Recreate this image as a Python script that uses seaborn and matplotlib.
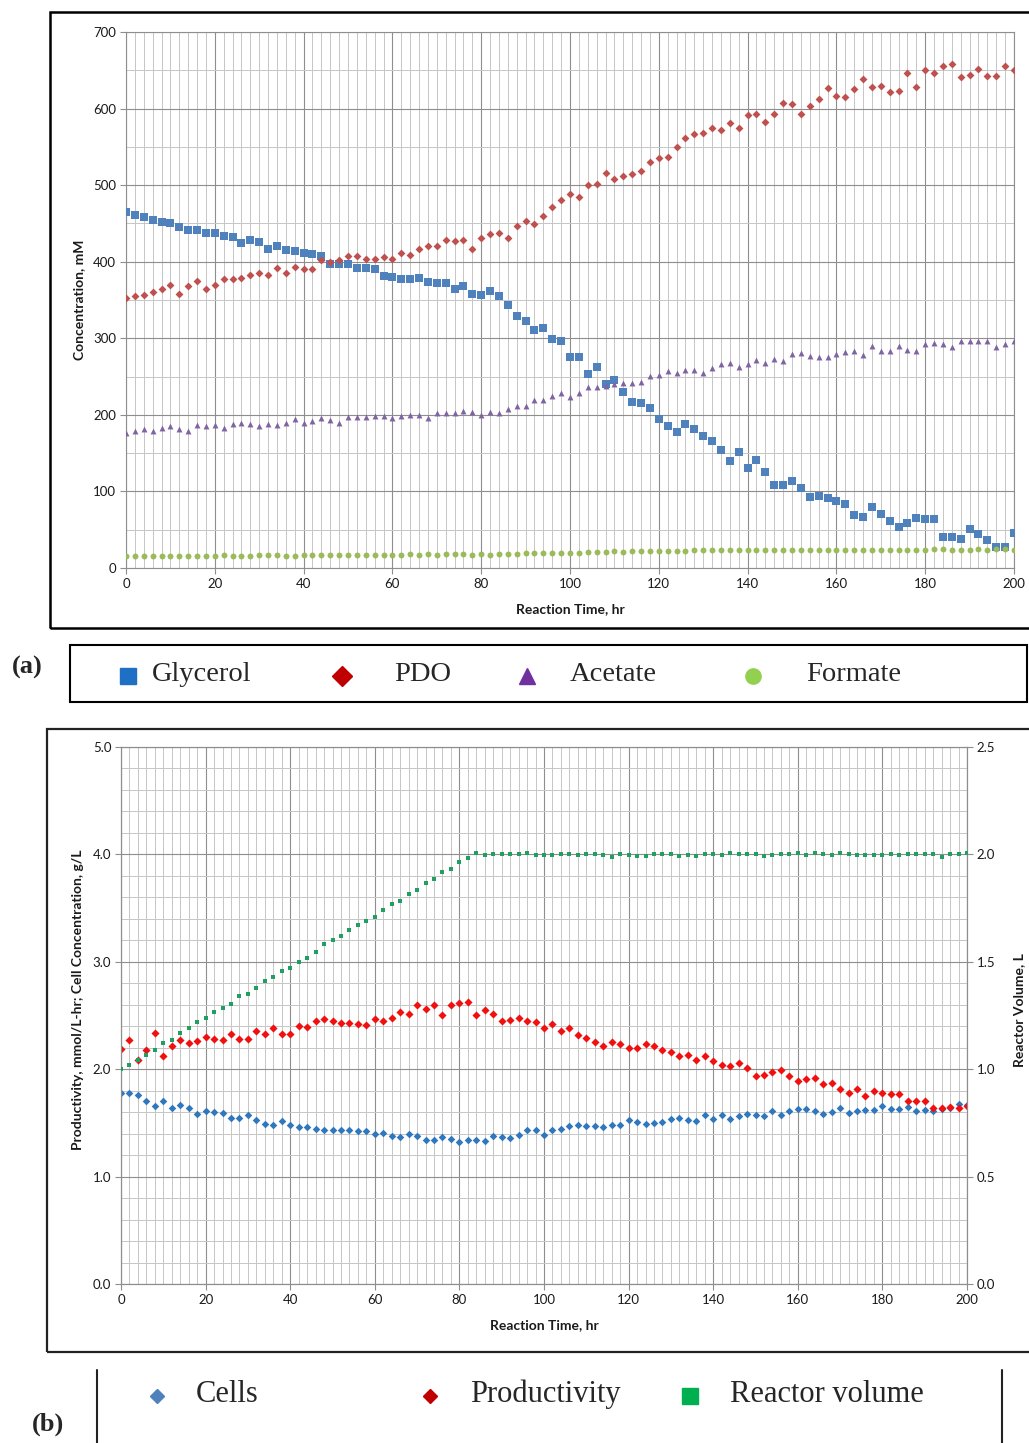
import matplotlib
matplotlib.use('Agg')
import matplotlib.pyplot as plt
from matplotlib.patches import Rectangle
from matplotlib.lines import Line2D
from matplotlib.ticker import FormatStrFormatter
import numpy as np
import pandas as pd
import seaborn as sns

sns.set_style('whitegrid')
plt.rcParams['font.family'] = ['Lato', 'DejaVu Sans']

# sampling times, hr
time = list(range(0, 201, 2))

# (a) concentrations, mM
glycerol = [465, 461, 458, 455, 452, 451, 445, 442, 441, 438,
            438, 433, 432, 424, 428, 426, 416, 421, 415, 414,
            411, 410, 407, 397, 397, 397, 392, 392, 390, 381,
            380, 377, 378, 379, 373, 372, 372, 365, 368, 358,
            356, 362, 355, 344, 329, 322, 311, 314, 299, 296,
            275, 275, 254, 263, 240, 245, 230, 217, 216, 209,
            195, 185, 178, 188, 182, 172, 166, 154, 140, 151,
            131, 141, 126, 109, 108, 114, 105, 93, 94, 92,
            88, 83, 69, 67, 80, 70, 61, 53, 59, 65,
            64, 64, 41, 41, 38, 51, 45, 36, 27, 27,
            46]
pdo = [352, 355, 356, 360, 365, 369, 358, 368, 375, 364,
       370, 378, 378, 379, 382, 385, 382, 392, 385, 393,
       391, 391, 402, 400, 402, 408, 408, 403, 403, 406,
       404, 411, 409, 416, 421, 421, 428, 427, 428, 417,
       431, 436, 437, 431, 447, 453, 449, 460, 472, 481,
       489, 484, 500, 502, 516, 508, 512, 515, 519, 530,
       536, 537, 550, 561, 567, 568, 575, 572, 581, 575,
       592, 593, 582, 593, 607, 606, 593, 603, 613, 627,
       617, 615, 626, 638, 628, 630, 622, 623, 647, 628,
       651, 647, 655, 658, 641, 644, 652, 642, 643, 655,
       650]
acetate = [176, 179, 181, 179, 183, 185, 181, 179, 187, 186,
           187, 183, 188, 189, 188, 185, 188, 187, 189, 194,
           189, 192, 196, 193, 190, 197, 197, 197, 198, 198,
           196, 198, 200, 200, 196, 202, 203, 202, 205, 204,
           200, 204, 203, 208, 212, 211, 220, 220, 225, 228,
           223, 228, 237, 237, 238, 240, 242, 241, 243, 251,
           252, 257, 255, 259, 258, 255, 261, 266, 268, 262,
           266, 272, 268, 273, 270, 279, 281, 277, 275, 275,
           280, 282, 283, 278, 290, 284, 284, 290, 285, 284,
           293, 294, 292, 289, 297, 297, 297, 297, 289, 293,
           297]
formate = [16, 16, 16, 16, 16, 16, 16, 16, 16, 16,
           16, 17, 16, 16, 16, 17, 17, 17, 16, 16,
           17, 17, 17, 17, 17, 17, 17, 17, 17, 17,
           17, 17, 18, 17, 18, 17, 18, 18, 18, 17,
           18, 17, 18, 18, 18, 19, 19, 19, 20, 20,
           20, 20, 21, 21, 21, 22, 21, 22, 22, 22,
           22, 22, 22, 22, 23, 23, 23, 23, 23, 23,
           23, 24, 23, 24, 23, 24, 24, 23, 23, 24,
           24, 24, 24, 24, 24, 24, 24, 24, 24, 24,
           24, 25, 25, 24, 24, 24, 25, 24, 25, 25,
           24]

# (b) cells g/L, productivity mmol/L-hr, reactor volume L
cells = [1.78, 1.78, 1.76, 1.70, 1.66, 1.70, 1.64, 1.67, 1.64, 1.58,
         1.61, 1.60, 1.59, 1.55, 1.55, 1.57, 1.53, 1.49, 1.48, 1.52,
         1.48, 1.46, 1.46, 1.44, 1.43, 1.43, 1.43, 1.43, 1.42, 1.42,
         1.40, 1.41, 1.38, 1.37, 1.40, 1.38, 1.34, 1.34, 1.37, 1.35,
         1.32, 1.34, 1.34, 1.33, 1.38, 1.37, 1.36, 1.39, 1.43, 1.43,
         1.39, 1.43, 1.44, 1.47, 1.48, 1.47, 1.47, 1.46, 1.48, 1.48,
         1.53, 1.51, 1.49, 1.50, 1.51, 1.54, 1.55, 1.53, 1.52, 1.57,
         1.54, 1.57, 1.54, 1.56, 1.58, 1.57, 1.56, 1.61, 1.57, 1.61,
         1.63, 1.63, 1.61, 1.58, 1.60, 1.64, 1.59, 1.61, 1.62, 1.62,
         1.66, 1.63, 1.63, 1.65, 1.61, 1.62, 1.61, 1.63, 1.64, 1.68,
         1.67]
productivity = [2.19, 2.27, 2.09, 2.18, 2.34, 2.12, 2.22, 2.27, 2.24, 2.26,
                2.30, 2.28, 2.27, 2.33, 2.28, 2.28, 2.36, 2.33, 2.38, 2.33,
                2.33, 2.40, 2.39, 2.45, 2.47, 2.45, 2.43, 2.43, 2.42, 2.41,
                2.47, 2.45, 2.48, 2.53, 2.51, 2.60, 2.56, 2.60, 2.50, 2.60,
                2.62, 2.63, 2.50, 2.55, 2.51, 2.45, 2.46, 2.48, 2.45, 2.44,
                2.38, 2.42, 2.36, 2.38, 2.32, 2.29, 2.25, 2.22, 2.25, 2.23,
                2.20, 2.20, 2.23, 2.22, 2.18, 2.16, 2.12, 2.13, 2.09, 2.12,
                2.08, 2.04, 2.03, 2.06, 2.01, 1.94, 1.95, 1.97, 1.99, 1.94,
                1.89, 1.91, 1.92, 1.86, 1.87, 1.82, 1.78, 1.82, 1.75, 1.80,
                1.78, 1.77, 1.77, 1.70, 1.70, 1.70, 1.64, 1.64, 1.65, 1.64,
                1.66]
volume = [1.00, 1.02, 1.045, 1.065, 1.09, 1.12, 1.137, 1.167, 1.19, 1.22,
          1.24, 1.265, 1.285, 1.305, 1.34, 1.35, 1.38, 1.41, 1.43, 1.457,
          1.47, 1.50, 1.52, 1.547, 1.583, 1.603, 1.62, 1.65, 1.673, 1.69,
          1.71, 1.743, 1.768, 1.782, 1.816, 1.832, 1.869, 1.886, 1.917, 1.93,
          1.963, 1.984, 2.008, 1.997, 2.0, 2.0, 2.0, 2.0, 2.006, 1.995,
          1.997, 1.997, 2.003, 2.0, 1.997, 2.003, 2.0, 1.995, 1.988, 2.0,
          1.997, 1.992, 1.992, 2.0, 2.003, 2.0, 1.992, 1.995, 1.992, 2.003,
          2.0, 1.995, 2.008, 2.0, 2.003, 2.0, 1.992, 1.997, 2.003, 2.003,
          2.008, 1.995, 2.006, 2.003, 1.995, 2.006, 2.003, 1.998, 1.995, 1.995,
          1.995, 2.003, 1.995, 2.0, 2.0, 2.0, 2.0, 1.99, 2.003, 2.0,
          2.005]

conc = pd.DataFrame({'time': time, 'Glycerol': glycerol, 'PDO': pdo,
                     'Acetate': acetate, 'Formate': formate})
prod = pd.DataFrame({'time': time, 'Cells': cells, 'Productivity': productivity,
                     'Reactor volume': volume})

W, H = 1029, 1443
fig = plt.figure(figsize=(W / 100, H / 100), dpi=100)


def fx(px):
    return px / W


def fy(py):
    return 1 - py / H


def style_axes(ax, ymax, ymajor, yminor):
    ax.set_facecolor('white')
    ax.set_xlim(0, 200)
    ax.set_ylim(0, ymax)
    ax.set_xticks(range(0, 201, 20))
    ax.set_xticks(range(0, 201, 2), minor=True)
    ax.set_yticks(np.arange(0, ymax + 1e-9, ymajor))
    ax.set_yticks(np.arange(0, ymax + 1e-9, yminor), minor=True)
    ax.grid(which='major', color='#8e8e8e', lw=0.8)
    ax.grid(which='minor', color='#c6c6c6', lw=0.7)
    ax.set_axisbelow(True)
    for s in ax.spines.values():
        s.set_color('#8e8e8e')
        s.set_linewidth(0.8)
    ax.tick_params(which='major', length=4, color='#8e8e8e', labelsize=9.5,
                   labelcolor='#1a1a1a', pad=3, left=True, bottom=True)
    ax.tick_params(which='minor', length=0)


lab = dict(fontsize=10, fontweight='bold', color='#1a1a1a')

# ---------------- panel (a) ----------------
ax1 = fig.add_axes([fx(126), fy(568), fx(1014 - 126), (568 - 32) / H])
style_axes(ax1, 700, 100, 50)
sns.scatterplot(data=conc, x='time', y='Glycerol', marker='s', color='#4f81bd',
                s=32, linewidth=0, ax=ax1, zorder=3)
sns.scatterplot(data=conc, x='time', y='PDO', marker='D', color='#c0504d',
                s=16, linewidth=0, ax=ax1, zorder=3)
sns.scatterplot(data=conc, x='time', y='Acetate', marker='^', color='#8064a2',
                s=18, linewidth=0, ax=ax1, zorder=3)
sns.scatterplot(data=conc, x='time', y='Formate', marker='o', color='#9bbb59',
                s=18, linewidth=0, ax=ax1, zorder=3)
ax1.set_xlabel('Reaction Time, hr', **lab)
ax1.set_ylabel('Concentration, mM', **lab)
ax1.xaxis.set_label_coords(0.5, -0.066)
ax1.yaxis.set_label_coords(-0.046, 0.5)

# ---------------- panel (b) ----------------
ax2 = fig.add_axes([fx(121), fy(1284), fx(967 - 121), (1284 - 747) / H])
style_axes(ax2, 5.0, 1.0, 0.2)
ax2.yaxis.set_major_formatter(FormatStrFormatter('%.1f'))
sns.scatterplot(data=prod, x='time', y='Cells', marker='D', color='#2f78be',
                s=15, linewidth=0, ax=ax2, zorder=3)
sns.scatterplot(data=prod, x='time', y='Productivity', marker='D', color='#f01010',
                s=17, linewidth=0, ax=ax2, zorder=3)
ax2.set_xlabel('Reaction Time, hr', **lab)
ax2.set_ylabel('Productivity, mmol/L-hr; Cell Concentration, g/L', **lab)
ax2.xaxis.set_label_coords(0.5, -0.066)
ax2.yaxis.set_label_coords(-0.044, 0.53)

ax2r = ax2.twinx()
sns.scatterplot(data=prod, x='time', y='Reactor volume', marker='s', color='#20a060',
                s=6, linewidth=0, ax=ax2r, zorder=3)
ax2r.set_ylim(0, 2.5)
ax2r.set_yticks(np.arange(0, 2.51, 0.5))
ax2r.yaxis.set_major_formatter(FormatStrFormatter('%.1f'))
ax2r.grid(False)
for s in ax2r.spines.values():
    s.set_color('#8e8e8e')
    s.set_linewidth(0.8)
ax2r.tick_params(axis='y', length=4, color='#8e8e8e', labelsize=9.5,
                 labelcolor='#1a1a1a', pad=3, right=True)
ax2r.set_ylabel('Reactor Volume, L', **lab)
ax2r.yaxis.set_label_coords(1.054, 0.51)

# ---------------- frames ----------------
fig.add_artist(Rectangle((fx(50), fy(628)), 1.0, (628 - 12) / H, transform=fig.transFigure,
                         fill=False, ec='black', lw=1.8))
fig.add_artist(Rectangle((fx(70), fy(702)), fx(1027 - 70), (702 - 645) / H,
                         transform=fig.transFigure, fill=False, ec='black', lw=1.5))
fig.add_artist(Rectangle((fx(47), fy(1352)), 1.0, (1352 - 729) / H, transform=fig.transFigure,
                         fill=False, ec='#222222', lw=1.6))
for xl in (97, 1002):
    fig.add_artist(Line2D([fx(xl), fx(xl)], [fy(1370), 0], transform=fig.transFigure,
                          color='#222222', lw=1.5))

serif = ['Liberation Serif', 'DejaVu Serif']
fig.text(fx(27), fy(667), '(a)', family=serif, fontsize=19, fontweight='bold',
         ha='center', va='center')
fig.text(fx(48), fy(1424), '(b)', family=serif, fontsize=19, fontweight='bold',
         ha='center', va='center')

# legend (a)
leg_a = [('Glycerol', 's', '#1f6fc5', 11, 128, 152),
         ('PDO', 'D', '#c00000', 10, 342, 394),
         ('Acetate', '^', '#7030a0', 11, 527, 570),
         ('Formate', 'o', '#92d050', 11, 753, 806)]
for name, mk, col, ms, mx, tx in leg_a:
    fig.add_artist(Line2D([fx(mx)], [fy(676)], marker=mk, color=col, ms=ms, lw=0,
                          transform=fig.transFigure))
    fig.text(fx(tx), fy(674), name, family=serif, fontsize=20.5, va='center', ha='left')

# legend (b)
leg_b = [('Cells', 'D', '#4f81bd', 7, 157, 196),
         ('Productivity', 'D', '#c00000', 7, 430, 470),
         ('Reactor volume', 's', '#00b050', 11, 690, 730)]
for name, mk, col, ms, mx, tx in leg_b:
    fig.add_artist(Line2D([fx(mx)], [fy(1396)], marker=mk, color=col, ms=ms, lw=0,
                          transform=fig.transFigure))
    fig.text(fx(tx), fy(1394), name, family=serif, fontsize=22, va='center', ha='left')

fig.savefig('out.png', dpi=100, facecolor='white')
